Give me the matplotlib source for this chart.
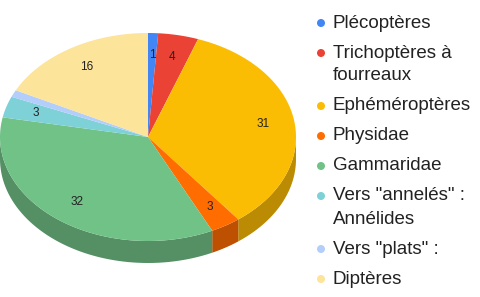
import numpy as np
import matplotlib
matplotlib.use('Agg')
import matplotlib.pyplot as plt
from matplotlib.patches import Polygon, Circle

plt.rcParams['font.family'] = ['Liberation Sans', 'DejaVu Sans']

# données
labels = ['Plécoptères', 'Trichoptères à\nfourreaux', 'Ephéméroptères', 'Physidae',
          'Gammaridae', 'Vers "annelés" :\nAnnélides', 'Vers "plats" :', 'Diptères']
values = [1, 4, 31, 3, 32, 3, 1, 16]
show_value = [True, True, True, True, True, True, False, True]
colors = ['#4285F4', '#EA4335', '#FBBC04', '#FF6D01',
          '#71C287', '#7ED1D7', '#B3CEFB', '#FDE49B']

# géométrie du camembert 3D (en pixels)
cx, cy = 148, 137
rx, ry = 148, 104
depth = 22


def darker(c, k=0.74):
    r, g, b = matplotlib.colors.to_rgb(c)
    return (r * k, g * k, b * k)


def rim(theta):
    # angle en degrés, sens horaire depuis le haut
    t = np.radians(theta)
    return cx + rx * np.sin(t), cy - ry * np.cos(t)


fig = plt.figure(figsize=(4.8, 2.97), dpi=100)
ax = fig.add_axes([0, 0, 1, 1])
ax.set_xlim(0, 480)
ax.set_ylim(297, 0)
ax.axis('off')

total = sum(values)
bounds = np.concatenate([[0], np.cumsum(values)]) / total * 360

# parois latérales (moitié avant)
for i in range(len(values)):
    a0 = max(bounds[i], 90)
    a1 = min(bounds[i + 1], 270)
    if a1 <= a0:
        continue
    th = np.linspace(a0, a1, 60)
    x, y = rim(th)
    pts = np.column_stack([np.concatenate([x, x[::-1]]),
                           np.concatenate([y, y[::-1] + depth])])
    ax.add_patch(Polygon(pts, closed=True, fc=darker(colors[i]), ec='none'))

# faces supérieures
for i in range(len(values)):
    th = np.linspace(bounds[i], bounds[i + 1], 100)
    x, y = rim(th)
    pts = np.column_stack([np.concatenate([[cx], x]), np.concatenate([[cy], y])])
    ax.add_patch(Polygon(pts, closed=True, fc=colors[i], ec='none'))

# valeurs sur les parts
for i, v in enumerate(values):
    if not show_value[i]:
        continue
    mid = np.radians((bounds[i] + bounds[i + 1]) / 2)
    f = 0.79
    ax.text(cx + rx * f * np.sin(mid), cy - ry * f * np.cos(mid), str(v),
            ha='center', va='center', fontsize=8.5, color='#222222')

# légende
y = 23
for lab, c in zip(labels, colors):
    ax.add_patch(Circle((321, y), 4, fc=c, ec='none'))
    lines = lab.split('\n')
    for j, line in enumerate(lines):
        ax.text(333, y + 23 * j, line, ha='left', va='center',
                fontsize=13.5, color='#222222')
    y += 30 + 23 * (len(lines) - 1)

fig.savefig('out.png', dpi=100)
